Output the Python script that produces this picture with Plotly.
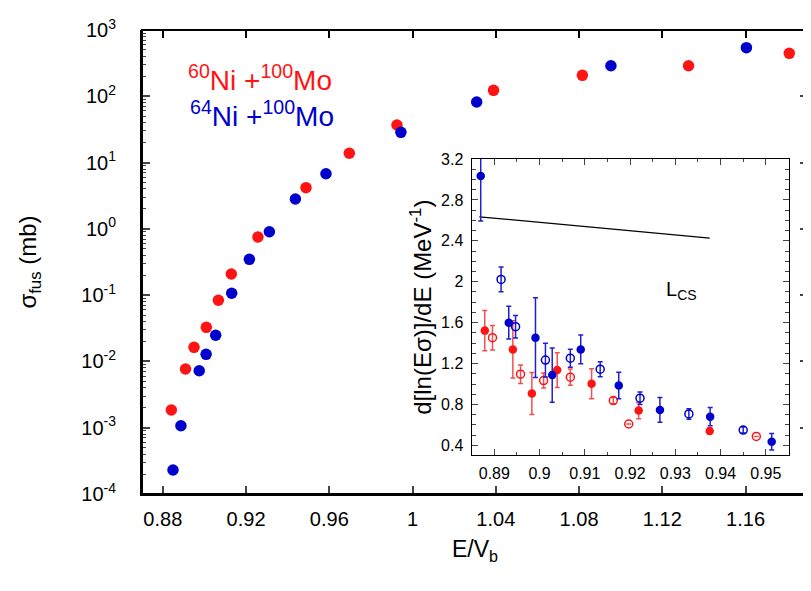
import plotly.graph_objects as go

RED = '#ff1414'
BLUE = '#0000cc'
FONT = 'Liberation Sans, Arial, sans-serif'

# main panel: fusion cross sections (mb) vs E/Vb
ni60_x = [0.8841, 0.8909, 0.8950, 0.9009, 0.9067, 0.9129, 0.9257, 0.9488,
          0.9696, 0.9925, 1.0389, 1.0816, 1.1326, 1.1810]
ni60_sig = [1.85e-3, 7.7e-3, 0.0163, 0.0327, 0.0836, 0.2085, 0.753, 4.18,
            13.8, 36.9, 123, 207, 289, 445]

ni64_x = [0.8849, 0.8887, 0.8975, 0.9008, 0.9054, 0.9131, 0.9216, 0.9312,
          0.9437, 0.9584, 0.9944, 1.0308, 1.0953, 1.1604]
ni64_sig = [2.3e-4, 1.07e-3, 7.24e-3, 0.0128, 0.0248, 0.1066, 0.347, 0.906,
            2.82, 6.79, 28.6, 82, 289, 541]

# inset: logarithmic derivative
b_fill_x = [0.8870, 0.8932, 0.8991, 0.9028, 0.9091, 0.9175, 0.9266, 0.9377, 0.9513]
b_fill_y = [3.033, 1.600, 1.453, 1.087, 1.338, 0.985, 0.747, 0.681, 0.436]
b_fill_e = [0.44, 0.16, 0.39, 0.265, 0.14, 0.13, 0.12, 0.09, 0.08]

b_open_x = [0.8915, 0.8947, 0.9013, 0.9068, 0.9134, 0.9222, 0.9330, 0.9450]
b_open_y = [2.023, 1.561, 1.234, 1.253, 1.145, 0.861, 0.707, 0.550]
b_open_e = [0.12, 0.11, 0.165, 0.088, 0.073, 0.062, 0.052, 0.03]

r_fill_x = [0.8879, 0.8941, 0.8983, 0.9039, 0.9115, 0.9219, 0.9376]
r_fill_y = [1.522, 1.338, 0.907, 1.136, 1.002, 0.740, 0.5405]
r_fill_e = [0.197, 0.28, 0.205, 0.17, 0.147, 0.08, 0.03]

r_open_x = [0.8896, 0.8958, 0.9009, 0.9068, 0.9163, 0.9197, 0.9479]
r_open_y = [1.453, 1.096, 1.034, 1.067, 0.838, 0.609, 0.488]
r_open_e = [0.12, 0.09, 0.073, 0.08, 0.03, 0.0, 0.0]

lcs_x = [0.8867, 0.9120, 0.9376]
lcs_y = [2.635, 2.530, 2.427]

x_ticks = [0.88, 0.92, 0.96, 1, 1.04, 1.08, 1.12, 1.16]

fig = go.Figure()

fig.add_trace(go.Scatter(x=ni60_x, y=ni60_sig, mode='markers',
                         marker=dict(color=RED, size=11.5, line_width=0)))
fig.add_trace(go.Scatter(x=ni64_x, y=ni64_sig, mode='markers',
                         marker=dict(color=BLUE, size=11.5, line_width=0)))
# empty trace so the top tick axis gets its own subplot
fig.add_trace(go.Scatter(x=[], y=[], xaxis='x3', yaxis='y', hoverinfo='skip'))

fig.add_trace(go.Scatter(x=lcs_x, y=lcs_y, mode='lines', xaxis='x2', yaxis='y2',
                         line=dict(color='black', width=1.3)))


def inset_pts(x, y, e, color, errcolor, open_):
    if open_:
        mk = dict(symbol='circle-open', size=8, color=color, line=dict(width=1.5, color=color))
    else:
        mk = dict(symbol='circle', size=8.5, color=color, line_width=0)
    return go.Scatter(x=x, y=y, mode='markers', xaxis='x2', yaxis='y2', marker=mk,
                      error_y=dict(type='data', array=e, color=errcolor,
                                   thickness=1.5, width=2.5))


fig.add_trace(inset_pts(r_fill_x, r_fill_y, r_fill_e, RED, '#f05050', False))
fig.add_trace(inset_pts(r_open_x, r_open_y, r_open_e, RED, '#f05050', True))
fig.add_trace(inset_pts(b_fill_x, b_fill_y, b_fill_e, BLUE, '#2020d0', False))
fig.add_trace(inset_pts(b_open_x, b_open_y, b_open_e, BLUE, '#2020d0', True))

ytv = [1e-4, 1e-3, 1e-2, 1e-1, 1, 10, 100, 1000]
ytt = ['10<sup>%d</sup>' % p for p in range(-4, 4)]

# the page body adds 8px around the figure, so the figure is 8px smaller
fig.update_layout(
    width=803, height=583,
    margin=dict(l=134, r=3, t=22, b=97),
    paper_bgcolor='white', plot_bgcolor='white',
    showlegend=False,
    font=dict(family=FONT, color='black'),
    xaxis=dict(range=[0.87, 1.19], tickvals=x_ticks,
               ticks='inside', ticklen=8, tickwidth=1.5, automargin=False,
               showline=True, linecolor='black', linewidth=2, showgrid=False, zeroline=False,
               tickfont=dict(size=20), ticklabelstandoff=6,
               title=dict(text='E/V<sub>b</sub>', font=dict(size=23), standoff=12)),
    # top ticks of the main frame
    xaxis3=dict(range=[0.87, 1.19], overlaying='x', side='top', anchor='y', tickvals=x_ticks,
                ticks='inside', ticklen=8, tickwidth=1.5, tickcolor='black', showticklabels=False,
                showline=False, showgrid=False, zeroline=False, automargin=False),
    yaxis=dict(type='log', range=[-4, 3], tickvals=ytv, ticktext=ytt,
               ticks='inside', ticklen=8, tickwidth=1.5, mirror='ticks', automargin=False,
               minor=dict(ticks='inside', ticklen=4, tickwidth=1, dtick='D1'),
               showline=True, linecolor='black', linewidth=2, showgrid=False, zeroline=False,
               tickfont=dict(size=20), ticklabelstandoff=20,
               title=dict(text='σ<sub>fus</sub> (mb)', font=dict(size=24), standoff=38)),
    xaxis2=dict(domain=[0.495, 0.972], anchor='y2', range=[0.885, 0.9552],
                dtick=0.01, tick0=0.89, ticks='inside', ticklen=6, tickwidth=1,
                minor=dict(ticks='inside', ticklen=3, dtick=0.005), automargin=False,
                mirror='ticks', showline=True, linecolor='black', linewidth=1.3,
                showgrid=False, zeroline=False, tickfont=dict(size=16), ticklabelstandoff=3),
    yaxis2=dict(domain=[0.0834, 0.722], anchor='x2', range=[0.303, 3.2],
                dtick=0.4, tick0=0, ticks='inside', ticklen=6, tickwidth=1,
                minor=dict(ticks='inside', ticklen=4, dtick=0.1), automargin=False,
                mirror='ticks', showline=True, linecolor='black', linewidth=1.3,
                showgrid=False, zeroline=False, tickfont=dict(size=16), ticklabelstandoff=4,
                title=dict(text='d[ln(Eσ)]/dE (MeV<sup>-1</sup>)', font=dict(size=24), standoff=2)),
    shapes=[dict(type='rect', xref='paper', yref='paper', x0=0, x1=1, y0=0, y1=1,
                 line=dict(color='black', width=2))],
    annotations=[
        dict(text='<sup>60</sup>Ni +<sup>100</sup>Mo', xref='paper', yref='paper',
             x=0.066, y=0.896, xanchor='left', yanchor='middle', showarrow=False,
             font=dict(size=28, color=RED)),
        dict(text='<sup>64</sup>Ni +<sup>100</sup>Mo', xref='paper', yref='paper',
             x=0.069, y=0.819, xanchor='left', yanchor='middle', showarrow=False,
             font=dict(size=28, color=BLUE)),
        dict(text='L<sub>CS</sub>', xref='x2', yref='y2', x=0.9276, y=1.918,
             xanchor='left', yanchor='middle', showarrow=False, font=dict(size=20)),
    ],
)

fig.write_html('out.html')
